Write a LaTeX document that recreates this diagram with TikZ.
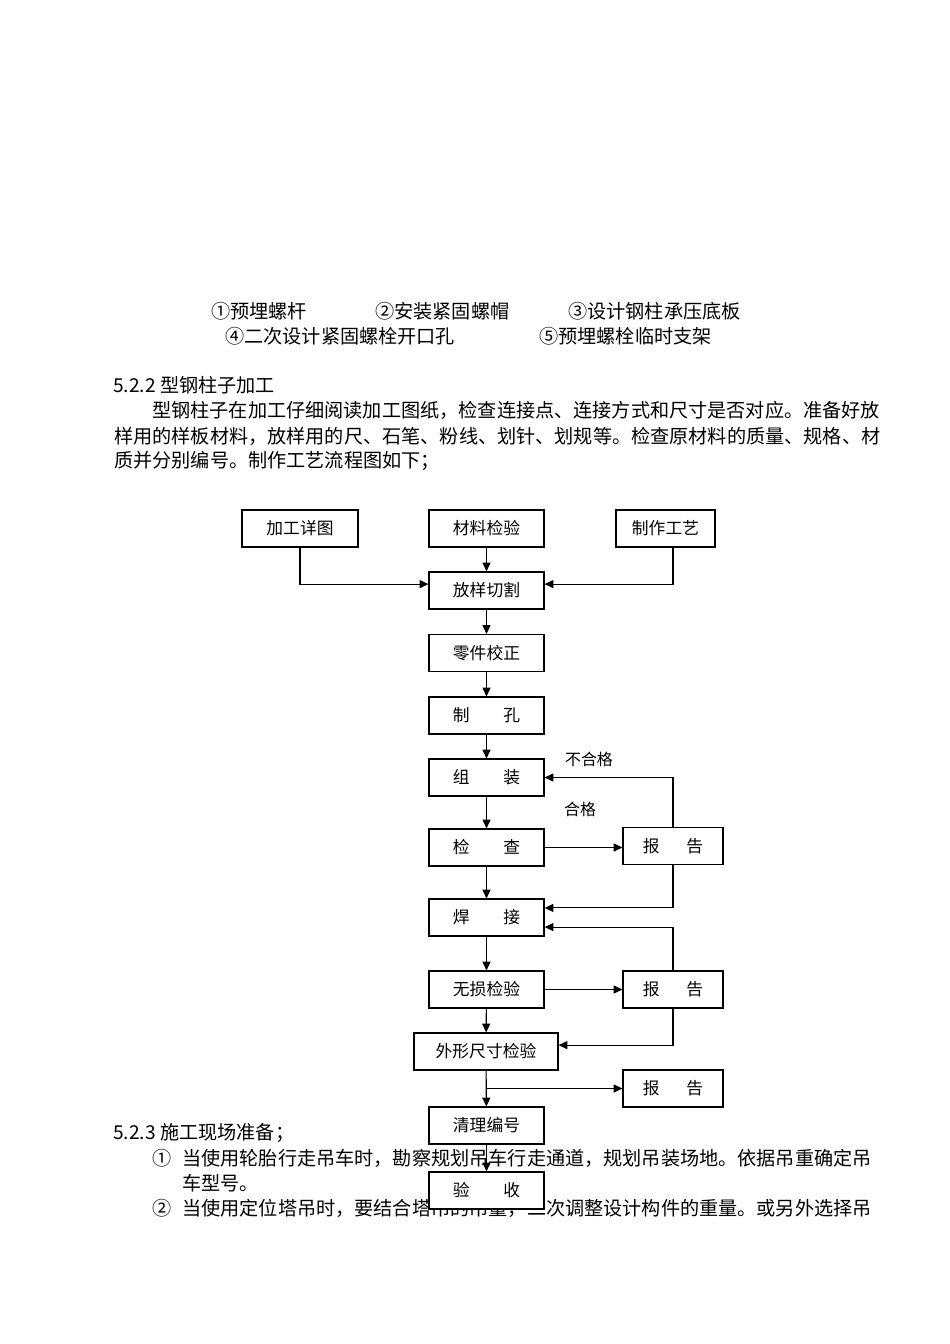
\documentclass[tikz,border=0pt]{standalone}
\usepackage{fontspec}
\setmainfont{Noto Sans CJK SC}
\usetikzlibrary{arrows.meta}
\newcommand{\pxunit}{0.6266pt}
\tikzset{
  flowbox/.style={
    draw=black, fill=white, line width=0.7pt, inner sep=0pt,
    minimum width={#1*\pxunit}, minimum height={37*\pxunit},
    font=\fontsize{10.5pt}{12pt}\selectfont,
  },
  flowbox/.default=115,
  flowarrow/.style={-{Triangle[length=5.5pt,width=5pt]}, line width=0.7pt},
  bodyline/.style={anchor=west, inner sep=0pt, font=\fontsize{12pt}{14pt}\selectfont},
  flowlabel/.style={inner sep=0pt, font=\fontsize{10pt}{12pt}\selectfont},
}

\begin{document}
\begin{tikzpicture}[x=0.6266pt, y=-0.6266pt]
% page frame
\fill[white] (0, 0) rectangle (950, 1344);
\useasboundingbox (0, 0) rectangle (950, 1344);

% =:=:=:=:=:=:=:=:=:=:=:=:=:=:=:=:=:=:=
% Legend of the bolt parts
% =:=:=:=:=:=:=:=:=:=:=:=:=:=:=:=:=:=:=
\node[bodyline] (part1) at (211, 311) {①预埋螺杆};
\node[bodyline] (part2) at (375, 311) {②安装紧固螺帽};
\node[bodyline] (part3) at (568, 311) {③设计钢柱承压底板};
\node[bodyline] (part4) at (225, 336) {④二次设计紧固螺栓开口孔};
\node[bodyline] (part5) at (539, 336) {⑤预埋螺栓临时支架};

% =:=:=:=:=:=:=:=:=:=:=:=:=:=:=:=:=:=:=
% Section 5.2.2
% =:=:=:=:=:=:=:=:=:=:=:=:=:=:=:=:=:=:=
\node[bodyline] (sec2) at (113, 385) {5.2.2 型钢柱子加工};
\node[bodyline] (para1) at (152, 410.5)
    {型钢柱子在加工仔细阅读加工图纸，检查连接点、连接方式和尺寸是否对应。准备好放};
\node[bodyline] (para2) at (114, 436)
    {样用的样板材料，放样用的尺、石笔、粉线、划针、划规等。检查原材料的质量、规格、材};
\node[bodyline] (para3) at (114, 461)
    {质并分别编号。制作工艺流程图如下；};

% =:=:=:=:=:=:=:=:=:=:=:=:=:=:=:=:=:=:=
% Section 5.2.3 (lies under the last boxes)
% =:=:=:=:=:=:=:=:=:=:=:=:=:=:=:=:=:=:=
\node[bodyline] (sec3) at (113, 1133) {5.2.3 施工现场准备；};
\node[bodyline] (item1n) at (152, 1158) {①};
\node[bodyline] (item1) at (182, 1158)
    {当使用轮胎行走吊车时，勘察规划吊车行走通道，规划吊装场地。依据吊重确定吊};
\node[bodyline] (item1b) at (182, 1183) {车型号。};
\node[bodyline] (item2n) at (152, 1208) {②};
\node[bodyline] (item2) at (182, 1208)
    {当使用定位塔吊时，要结合塔吊的吊量，二次调整设计构件的重量。或另外选择吊};

% =:=:=:=:=:=:=:=:=:=:=:=:=:=:=:=:=:=:=
% Flow chart boxes
% =:=:=:=:=:=:=:=:=:=:=:=:=:=:=:=:=:=:=
\node[flowbox=116] (detail)   at (300, 528.5)   {加工详图};
\node[flowbox]     (material) at (486.5, 528.5) {材料检验};
\node[flowbox=99]  (process)  at (665.5, 528.5) {制作工艺};

\node[flowbox] (cut)      at (486.5, 590.5)  {放样切割};
\node[flowbox] (correct)  at (486.5, 653)    {零件校正};
\node[flowbox] (drill)    at (486.5, 715.5)  {制\hspace{2em}孔};
\node[flowbox] (assemble) at (486.5, 777.5)  {组\hspace{2em}装};
\node[flowbox] (check)    at (486.5, 847.5)  {检\hspace{2em}查};
\node[flowbox] (weld)     at (486.5, 917.5)  {焊\hspace{2em}接};
\node[flowbox] (ndt)      at (486.5, 989.5)  {无损检验};
\node[flowbox=144] (dimcheck) at (486, 1051.5) {外形尺寸检验};
\node[flowbox] (clean)    at (486.5, 1125.5) {清理编号};
\node[flowbox] (accept)   at (486.5, 1190.5) {验\hspace{2em}收};

% report boxes
\node[flowbox=100] (rep1) at (673, 846)    {报\hspace{1.6em}告};
\node[flowbox=100] (rep2) at (673, 989.5)  {报\hspace{1.6em}告};
\node[flowbox=100] (rep3) at (673, 1088.5) {报\hspace{1.6em}告};

% =:=:=:=:=:=:=:=:=:=:=:=:=:=:=:=:=:=:=
% Connectors
% =:=:=:=:=:=:=:=:=:=:=:=:=:=:=:=:=:=:=
\draw[flowarrow] (material) -- (cut);
\draw[flowarrow] (detail.south) |- ([yshift=4pt]cut.west);
\draw[flowarrow] ([xshift=4.7pt]process.south) |- ([yshift=4pt]cut.east);

\draw[flowarrow] (cut) -- (correct);
\draw[flowarrow] (correct) -- (drill);
\draw[flowarrow] (drill) -- (assemble);
\draw[flowarrow] (assemble) -- (check);
\draw[flowarrow] (check) -- (weld);
\draw[flowarrow] (weld) -- (ndt);
\draw[flowarrow] (ndt) -- (dimcheck);
\draw[flowarrow] (dimcheck) -- (clean);
\draw[flowarrow] (clean) -- (accept);

% check -> report -> back
\draw[flowarrow] (check.east) -- (check.east -| rep1.west);
\draw[flowarrow] (rep1.north) |- (assemble.east);
\draw[flowarrow] (rep1.south) |- ([yshift=6pt]weld.east);

% NDT -> report -> back
\draw[flowarrow] (ndt.east) -- (rep2.west);
\draw[flowarrow] (rep2.north) |- ([yshift=-6pt]weld.east);
\draw[flowarrow] (rep2.south) |- ([yshift=4pt]dimcheck.east);

% dimension check -> report
\draw[flowarrow] (dimcheck.south |- rep3.west) -- (rep3.west);

% pass / fail labels
\node[flowlabel] (fail) at (589, 759) {不合格};
\node[flowlabel] (pass) at (580, 809) {合格};

\end{tikzpicture}
\end{document}
